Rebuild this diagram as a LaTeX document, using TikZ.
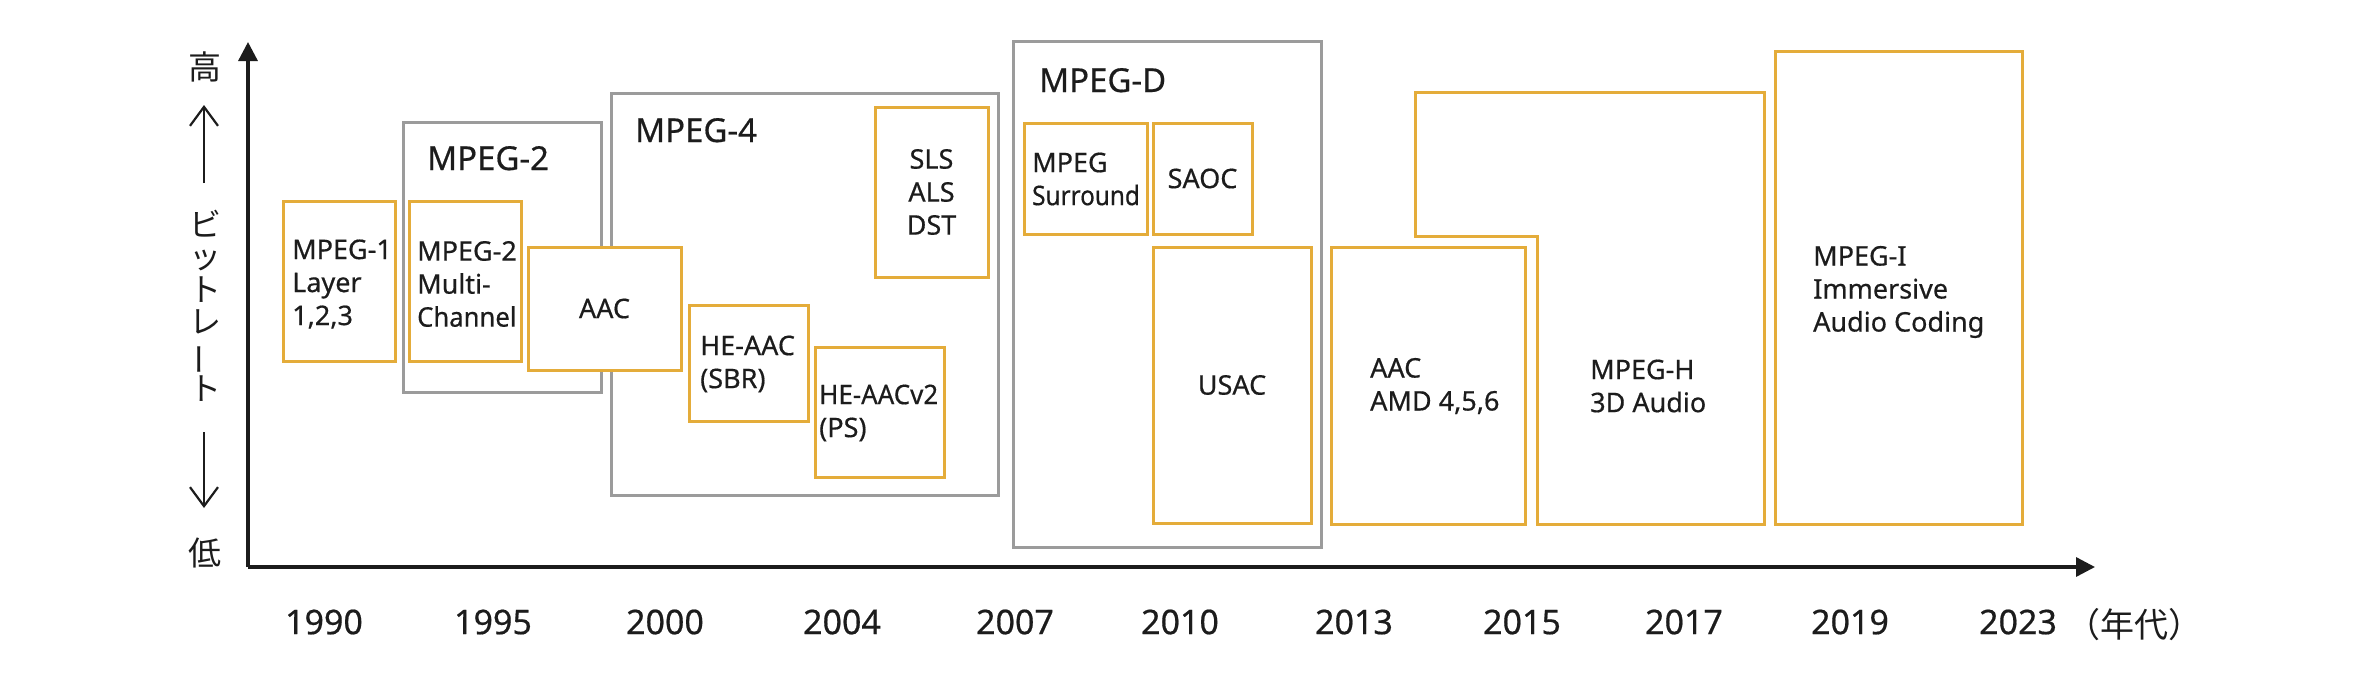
\documentclass[tikz,border=0pt]{standalone}
\usepackage{fontspec}
\setmainfont[FakeBold=0.5]{Noto Sans}
\newfontfamily\jpfont{Noto Sans CJK JP}
\usetikzlibrary{arrows.meta}
\definecolor{boxorange}{RGB}{228,172,58}
\definecolor{boxgray}{RGB}{155,155,155}
\definecolor{ink}{RGB}{28,28,28}
\tikzset{
  obox/.style={draw=boxorange, line width=3pt, fill=white, inner sep=0pt, text=ink,
               font=\fontsize{27}{33}\selectfont},
  gbox/.style={draw=boxgray, line width=3pt, inner sep=0pt},
  txt/.style={text=ink, font=\fontsize{27}{33}\selectfont, inner sep=0pt, align=left, anchor=west},
  grp/.style={text=ink, font=\fontsize{33}{40}\selectfont, inner sep=0pt},
  yr/.style={text=ink, font=\fontsize{34}{40}\selectfont, inner sep=0pt},
  jp/.style={text=ink, font=\jpfont\fontsize{33}{33}\selectfont, inner sep=0pt},
  axisline/.style={line width=3.3pt, draw=ink, -{Triangle[length=19pt,width=19pt]}},
  thinarrow/.style={line width=2.2pt, draw=ink, -{Straight Barb[length=19pt,width=28pt]}}
}
\begin{document}
\begin{tikzpicture}[x=1pt,y=-1pt]
\useasboundingbox (0,0) rectangle (2380,680);
\fill[white] (0,0) rectangle (2380,680);

% group frames
\node[gbox, minimum width=198pt, minimum height=270pt] (g2) at (502,257) {};
\node[gbox, minimum width=387pt, minimum height=402pt] (g4) at (804.5,294) {};
\node[gbox, minimum width=308pt, minimum height=506pt] (gD) at (1167,294) {};
\node[grp, anchor=base west] (g2l) at (427,170) {MPEG-2};
\node[grp, anchor=base west] (g4l) at (635,142) {MPEG-4};
\node[grp, anchor=base west] (gDl) at (1039,92) {MPEG-D};

% codec boxes
\node[obox, minimum width=112pt, minimum height=160pt] (m1) at (339,281) {};
\node[txt] (m1t) at (292,284) {MPEG-1\\Layer\\1,2,3};
\node[obox, minimum width=112pt, minimum height=160pt] (m2) at (465,281) {};
\node[txt] (m2t) at (417,284) {MPEG-2\\Multi-\\\scalebox{0.95}[1]{Channel}};
\node[obox, minimum width=153pt, minimum height=123pt, align=center] (aac) at (604.5,308.5) {AAC};
\node[obox, minimum width=113pt, minimum height=170pt, align=center] (sls) at (931.5,192) {SLS\\ALS\\DST};
\node[obox, minimum width=119pt, minimum height=116pt] (he) at (748.5,363) {};
\node[txt] (het) at (700,364) {HE-AAC\\(SBR)};
\node[obox, minimum width=129pt, minimum height=130pt] (he2) at (879.5,412) {};
\node[txt] (he2t) at (819,413) {\scalebox{0.96}[1]{HE-AACv2}\\(PS)};
\node[obox, minimum width=123pt, minimum height=111pt] (surr) at (1085.5,178.5) {};
\node[txt] (surrt) at (1032,179) {MPEG\\\scalebox{0.9}[1]{Surround}};
\node[obox, minimum width=99pt, minimum height=111pt, align=center] (saoc) at (1202.5,178.5) {SAOC};
\node[obox, minimum width=158pt, minimum height=276pt, align=center] (usac) at (1232,385) {USAC};
\node[obox, minimum width=194pt, minimum height=277pt] (amd) at (1428,385.5) {};
\node[txt] (amdt) at (1370,386) {AAC\\AMD 4,5,6};
\draw[obox] (1415,92) coordinate (hA) -- (1764,92) -- (1764,524) -- (1537,524)
  -- (1537,236) -- (1415,236) -- cycle;
\node[txt] (mpegh) at (1590,386) {MPEG-H\\3D Audio};
\node[obox, minimum width=247pt, minimum height=473pt] (mpegi) at (1898.5,287.5) {};
\node[txt] (mpegit) at (1813,292) {MPEG-I\\Immersive\\Audio Coding};

% axes
\coordinate (O) at (248,567);
\coordinate (ytip) at (248,42);
\coordinate (xtip) at (2095,567);
\draw[axisline] (O) -- (ytip);
\draw[axisline] (O) -- (xtip);

% vertical axis label
\node[jp] (hi) at (205,67) {高};
\coordinate (upS) at (204,183);
\coordinate (upE) at (204,105);
\draw[thinarrow] (upS) -- (upE);
\node[jp, align=center, font=\jpfont\fontsize{32}{32.4}\selectfont] (brate) at (205,306)
  {ビ\\ッ\\ト\\レ\\\rotatebox[origin=c]{90}{ー}\\ト};
\coordinate (dnS) at (204,432);
\coordinate (dnE) at (204,508);
\draw[thinarrow] (dnS) -- (dnE);
\node[jp] (lo) at (205,553) {低};

% years
\node[yr] (y1990) at (324,622) {1990};
\node[yr] (y1995) at (493,622) {1995};
\node[yr] (y2000) at (665,622) {2000};
\node[yr] (y2004) at (842,622) {2004};
\node[yr] (y2007) at (1015,622) {2007};
\node[yr] (y2010) at (1180,622) {2010};
\node[yr] (y2013) at (1354,622) {2013};
\node[yr] (y2015) at (1522,622) {2015};
\node[yr] (y2017) at (1684,622) {2017};
\node[yr] (y2019) at (1850,622) {2019};
\node[yr] (y2023) at (2018,622) {2023};
\node[jp, font=\jpfont\fontsize{34}{34}\selectfont] (nendai) at (2134,625) {（年代）};
\end{tikzpicture}
\end{document}
